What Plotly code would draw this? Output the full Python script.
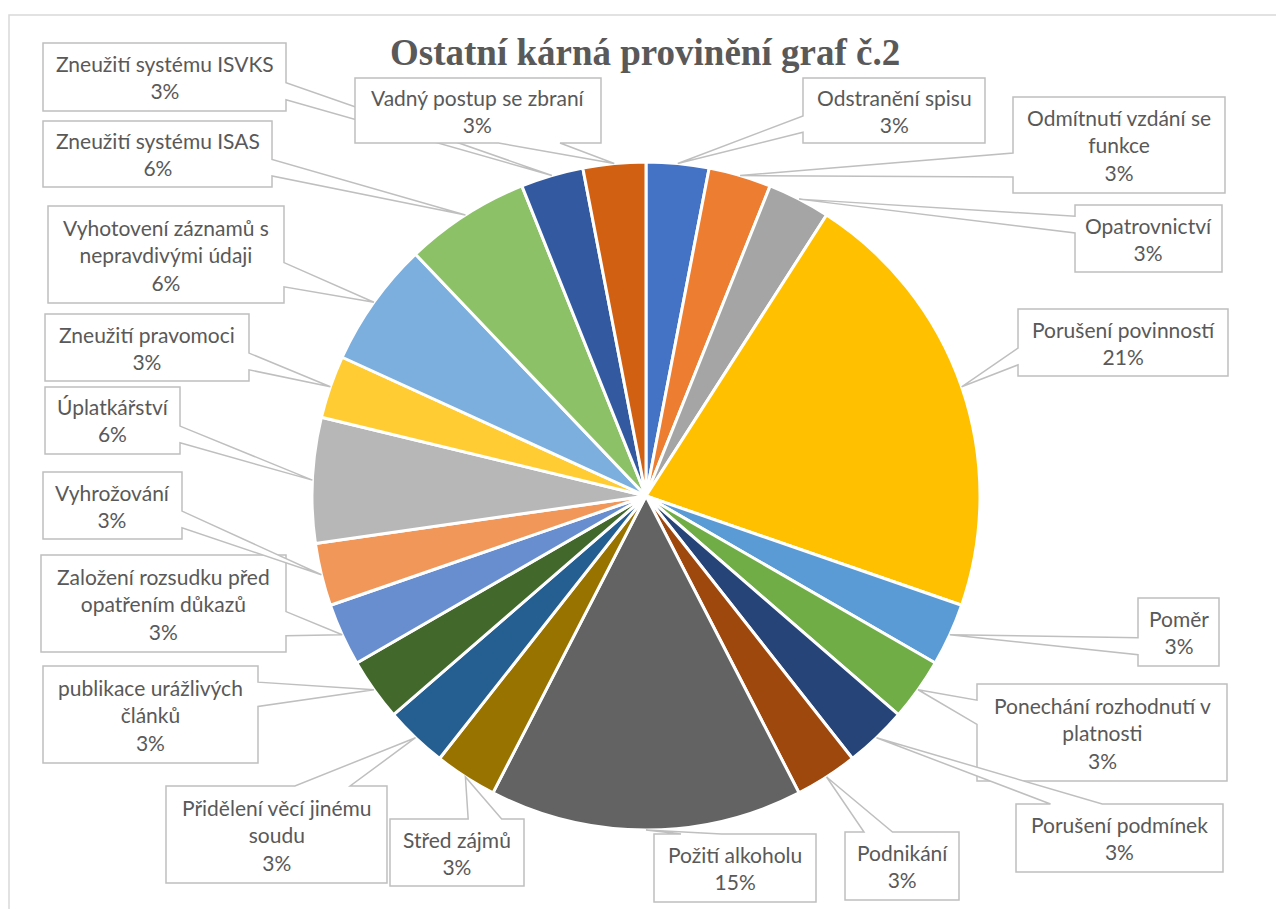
import math
import plotly.graph_objects as go

W, H = 1276, 909

# ---------------- data ----------------
categories = [
    "Odstranění spisu", "Odmítnutí vzdání se funkce", "Opatrovnictví",
    "Porušení povinností", "Poměr", "Ponechání rozhodnutí v platnosti",
    "Porušení podmínek", "Podnikání", "Požití alkoholu", "Střed zájmů",
    "Přidělení věcí jinému soudu", "publikace urážlivých článků",
    "Založení rozsudku před opatřením důkazů", "Vyhrožování", "Úplatkářství",
    "Zneužití pravomoci", "Vyhotovení záznamů s nepravdivými údaji",
    "Zneužití systému ISAS", "Zneužití systému ISVKS", "Vadný postup se zbraní",
]
counts = [1, 1, 1, 7, 1, 1, 1, 1, 5, 1, 1, 1, 1, 1, 2, 1, 2, 2, 1, 1]

# label text as wrapped in the chart
label_text = [
    "Odstranění spisu", "Odmítnutí vzdání se<br>funkce", "Opatrovnictví",
    "Porušení povinností", "Poměr", "Ponechání rozhodnutí v<br>platnosti",
    "Porušení podmínek", "Podnikání", "Požití alkoholu", "Střed zájmů",
    "Přidělení věcí jinému<br>soudu", "publikace urážlivých<br>článků",
    "Založení rozsudku před<br>opatřením důkazů", "Vyhrožování", "Úplatkářství",
    "Zneužití pravomoci", "Vyhotovení záznamů s<br>nepravdivými údaji",
    "Zneužití systému ISAS", "Zneužití systému ISVKS", "Vadný postup se zbraní",
]

colors = [
    "#4472C4", "#ED7D31", "#A5A5A5", "#FFC000", "#5B9BD5", "#70AD47",
    "#264478", "#9E480E", "#636363", "#997300", "#255E91", "#43682B",
    "#698ED0", "#F1975A", "#B7B7B7", "#FFCD33", "#7CAFDD", "#8CC168",
    "#335AA1", "#D26012",
]

# callout box placement (pixels: x0, y0, x1, y1)
boxes = [
    (803, 78, 985, 143), (1013, 97, 1225, 193), (1075, 205, 1222, 272),
    (1018, 309, 1228, 376), (1138, 598, 1219, 666), (977, 684, 1227, 781),
    (1016, 804, 1223, 872), (845, 832, 959, 900), (654, 834, 816, 902),
    (390, 819, 524, 886), (166, 786, 387, 883), (43, 666, 258, 763),
    (41, 555, 286, 652), (43, 472, 182, 539), (45, 387, 180, 454),
    (45, 314, 249, 381), (48, 206, 284, 303), (43, 121, 272, 187),
    (43, 43, 286, 111), (355, 78, 601, 143),
]

# pie geometry (pixels)
CX, CY, R = 646, 496, 334
total = sum(counts)


def pp(x, y):
    return x / W, 1 - y / H


fig = go.Figure(go.Pie(
    labels=categories, values=counts, sort=False, direction="clockwise",
    rotation=0, textinfo="none", hoverinfo="skip",
    marker=dict(colors=colors, line=dict(color="white", width=3)),
    domain=dict(x=[(CX - R) / W, (CX + R) / W], y=[1 - (CY + R) / H, 1 - (CY - R) / H]),
    showlegend=False,
))

shapes = []
annotations = []

# chart frame
fx0, fy0 = pp(9, 15)
fx1, fy1 = pp(W + 20, H + 20)
shapes.append(dict(type="rect", xref="paper", yref="paper", x0=fx0, y0=fy0, x1=fx1, y1=fy1,
                   line=dict(color="#D9D9D9", width=1.5), fillcolor="rgba(0,0,0,0)", layer="below"))

cum = 0
for i, v in enumerate(counts):
    mid = (cum + v / 2) / total * 2 * math.pi
    cum += v
    tx = CX + R * math.sin(mid)
    ty = CY - R * math.cos(mid)
    x0, y0, x1, y1 = boxes[i]
    w, h = x1 - x0, y1 - y0
    hc, vc = (x0 + x1) / 2, (y0 + y1) / 2
    dx, dy = tx - hc, ty - vc
    pts = [(x0, y0)]
    if abs(dx) * h > abs(dy) * w:
        g1, g2 = (7, 10) if dy > 0 else (2, 5)
        yb1, yb2 = y0 + h * g1 / 12, y0 + h * g2 / 12
        if dx > 0:
            pts += [(x1, y0), (x1, yb1), (tx, ty), (x1, yb2), (x1, y1), (x0, y1)]
        else:
            pts += [(x1, y0), (x1, y1), (x0, y1), (x0, yb2), (tx, ty), (x0, yb1)]
    else:
        g1, g2 = (7, 10) if dx > 0 else (2, 5)
        xb1, xb2 = x0 + w * g1 / 12, x0 + w * g2 / 12
        if dy < 0:
            pts += [(xb1, y0), (tx, ty), (xb2, y0), (x1, y0), (x1, y1), (x0, y1)]
        else:
            pts += [(x1, y0), (x1, y1), (xb2, y1), (tx, ty), (xb1, y1), (x0, y1)]
    path = "M " + " L ".join("%.5f,%.5f" % pp(px, py) for px, py in pts) + " Z"
    shapes.append(dict(type="path", xref="paper", yref="paper", path=path,
                       fillcolor="white", line=dict(color="#BFBFBF", width=1.5), layer="above"))
    pct = round(v / total * 100)
    ax, ay = pp(hc, vc)
    annotations.append(dict(
        x=ax, y=ay, xref="paper", yref="paper", xanchor="center", yanchor="middle",
        text=f"{label_text[i]}<br>{pct}%", showarrow=False, align="center",
        font=dict(family="Lato, 'Open Sans', sans-serif", size=21, color="#595959"),
    ))

tx_, ty_ = pp(645, 53)
annotations.append(dict(
    x=tx_, y=ty_, xref="paper", yref="paper", xanchor="center", yanchor="middle",
    text="Ostatní kárná provinění graf č.2", showarrow=False,
    font=dict(family="Liberation Serif, Times New Roman, serif", size=37, color="#595959", weight=700),
))

fig.update_layout(
    width=W, height=H, margin=dict(l=0, r=0, t=0, b=0),
    paper_bgcolor="white", plot_bgcolor="white",
    shapes=shapes, annotations=annotations,
)

fig.write_html("out.html", config={"displayModeBar": False},
               post_script="document.body.style.margin='0';document.body.style.overflow='hidden';")
